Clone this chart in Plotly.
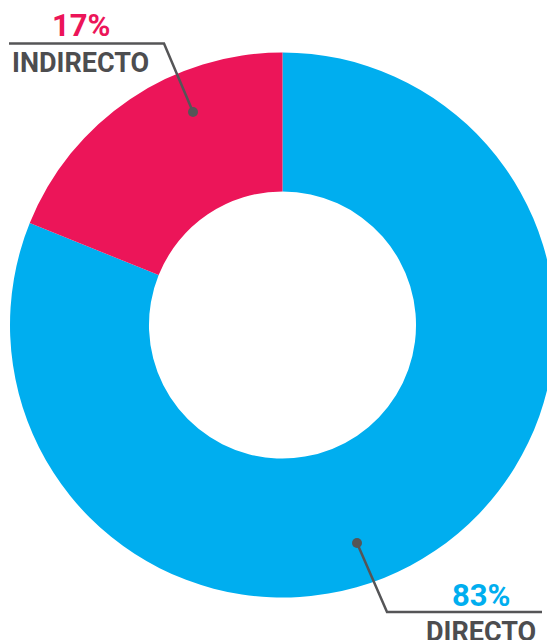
import plotly.graph_objects as go

# Data
categories = ["INDIRECTO", "DIRECTO"]
shares = [18.9, 81.1]          # slice sizes as drawn
pct_labels = ["17%", "83%"]    # printed labels
colors = ["#EC1559", "#00AEEF"]

OFF = 8  # page body margin offset
W, H = 555 - OFF, 640 - OFF
GRAY = "#4D4D4F"
LINE = "#555557"

def px(x):
    return (x - OFF) / W

def py(y):
    return 1 - (y - OFF) / H

cx, cy, R = 283.5, 325.0, 273.5
fig = go.Figure(go.Pie(
    labels=categories[::-1],
    values=shares[::-1],
    sort=False,
    direction="clockwise",
    rotation=0,
    hole=0.49,
    marker=dict(colors=colors[::-1], line=dict(width=0)),
    textinfo="none",
    hoverinfo="label+percent",
    showlegend=False,
    domain=dict(x=[max(0, px(cx - R)), min(1, px(cx + R))],
                y=[max(0, py(cy + R)), min(1, py(cy - R))]),
))

fam = "Roboto, 'Open Sans', sans-serif"
pct_font = dict(family=fam, size=31, weight="bold")
cat_font = dict(family=fam, size=27, weight="bold")

annotations = [
    dict(x=px(81), y=py(25), text=pct_labels[0], font=dict(color=colors[0], **pct_font)),
    dict(x=px(80), y=py(63), text=categories[0], font=dict(color=GRAY, **cat_font)),
    dict(x=px(481), y=py(595), text=pct_labels[1], font=dict(color=colors[1], **pct_font)),
    dict(x=px(481), y=py(632), text=categories[1], font=dict(color=GRAY, **cat_font)),
]
for a in annotations:
    a.update(xref="paper", yref="paper", showarrow=False, xanchor="center", yanchor="middle")

shapes = [
    dict(type="path", path=f"M {px(9)} {py(43.5)} L {px(164)} {py(43.5)} L {px(193)} {py(112)}",
         line=dict(color=LINE, width=2.5)),
    dict(type="circle", x0=px(188), x1=px(198), y0=py(107), y1=py(117),
         fillcolor=LINE, line=dict(width=0)),
    dict(type="path", path=f"M {px(357)} {py(543)} L {px(387)} {py(612)} L {px(542)} {py(612)}",
         line=dict(color=LINE, width=2.5)),
    dict(type="circle", x0=px(352), x1=px(362), y0=py(538), y1=py(548),
         fillcolor=LINE, line=dict(width=0)),
]
for s in shapes:
    s.update(xref="paper", yref="paper", layer="above")

fig.update_layout(
    width=W, height=H,
    margin=dict(l=0, r=0, t=0, b=0),
    paper_bgcolor="white",
    plot_bgcolor="white",
    annotations=annotations,
    shapes=shapes,
)

fig.write_html("out.html")
